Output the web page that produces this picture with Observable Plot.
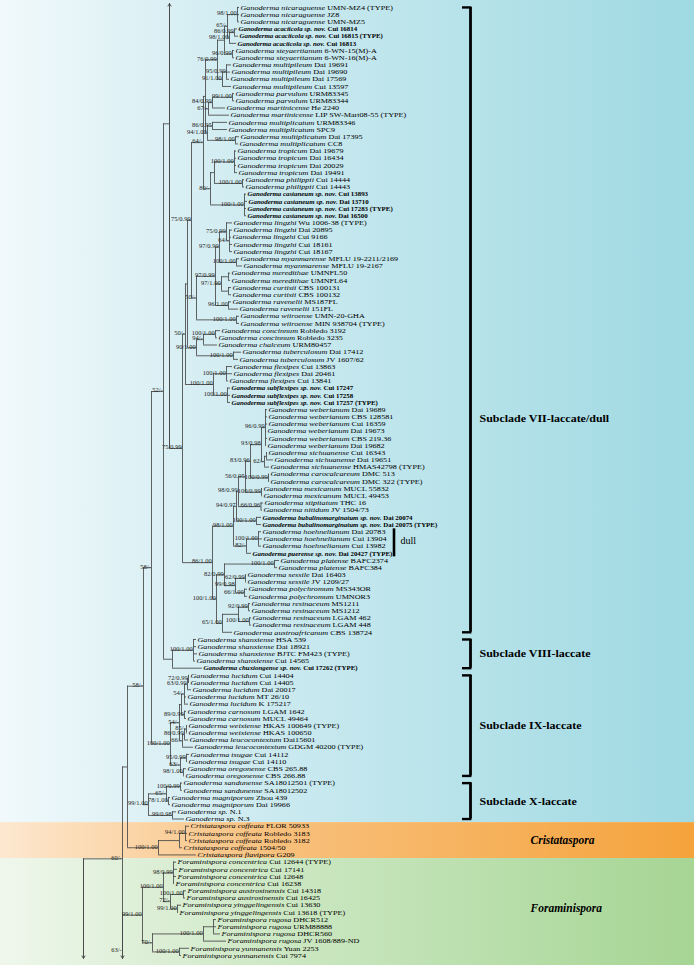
<!DOCTYPE html>
<html><head><meta charset="utf-8">
<script src="https://cdn.jsdelivr.net/npm/d3@7"></script>
<script src="https://cdn.jsdelivr.net/npm/@observablehq/plot@0.6"></script>
<style>
html,body{margin:0;padding:0;background:#fff;}
#chart svg{display:block;}
</style></head>
<body><div id="chart"></div>
<script>
// ---------------- DATA ----------------
// Terminal taxa, in top-to-bottom order (name, number of consecutive specimens)
const taxonRuns = [
 ["Ganoderma nicaraguense",3],["Ganoderma acaciicola sp. nov.",3],["Ganoderma steyaertianum",2],
 ["Ganoderma multipileum",4],["Ganoderma parvulum",2],["Ganoderma martinicense",2],
 ["Ganoderma multiplicatum",4],["Ganoderma tropicum",4],["Ganoderma philippii",2],
 ["Ganoderma castaneum sp. nov.",4],["Ganoderma lingzhi",5],["Ganoderma myanmarense",2],
 ["Ganoderma meredithae",2],["Ganoderma curtisii",2],["Ganoderma ravenelii",2],
 ["Ganoderma wiiroense",2],["Ganoderma concinnum",2],["Ganoderma chalceum",1],
 ["Ganoderma tuberculosum",2],["Ganoderma flexipes",3],["Ganoderma subflexipes sp. nov.",3],
 ["Ganoderma weberianum",6],["Ganoderma sichuanense",3],["Ganoderma carocalcareum",2],
 ["Ganoderma mexicanum",2],["Ganoderma stipitatum",1],["Ganoderma nitidum",1],
 ["Ganoderma bubalinomarginatum sp. nov.",2],["Ganoderma hoehnelianum",3],["Ganoderma puerense sp. nov.",1],
 ["Ganoderma platense",2],["Ganoderma sessile",2],["Ganoderma polychromum",2],
 ["Ganoderma resinaceum",4],["Ganoderma austroafricanum",1],["Ganoderma shanxiense",4],
 ["Ganoderma chuxiongense sp. nov.",1],["Ganoderma lucidum",5],["Ganoderma carnosum",2],
 ["Ganoderma weixiense",2],["Ganoderma leucocontextum",2],["Ganoderma tsugae",2],
 ["Ganoderma oregonense",2],["Ganoderma sandunense",2],["Ganoderma magniporum",2],
 ["Ganoderma sp.",2],["Cristataspora coffeata",4],["Cristataspora flavipora",1],
 ["Foraminispora concentrica",4],["Foraminispora austrosinensis",2],["Foraminispora yinggelingensis",2],
 ["Foraminispora rugosa",4],["Foraminispora yunnanensis",2]
];
const tipVouchers = [
 "UMN-MZ4 (TYPE)","JZ8","UMN-MZ5","Cui 16814","Cui 16815 (TYPE)","Cui 16813","6-WN-15(M)-A","6-WN-16(M)-A",
 "Dai 19691","Dai 19690","Dai 17569","Cui 13597","URM83345","URM83344","He 2240","LIP SW-Mart08-55 (TYPE)",
 "URM83346","SPC9","Dai 17395","CC8","Dai 19679","Dai 16434","Dai 20029","Dai 19491","Cui 14444","Cui 14443",
 "Cui 13893","Dai 13710","Cui 17283 (TYPE)","Dai 16500","Wu 1006-38 (TYPE)","Dai 20895","Cui 9166","Cui 18161",
 "Cui 18167","MFLU 19-2211/2169","MFLU 19-2167","UMNFL50","UMNFL64","CBS 100131","CBS 100132","MS187FL","151FL",
 "UMN-20-GHA","MIN 938704 (TYPE)","Robledo 3192","Robledo 3235","URM80457","Dai 17412","JV 1607/62",
 "Cui 13863","Dai 20461","Cui 13841","Cui 17247","Cui 17258","Cui 17257 (TYPE)",
 "Dai 19689","CBS 128581","Cui 16359","Dai 19673","CBS 219.36","Dai 19682","Cui 16343","Dai 19651",
 "HMAS42798 (TYPE)","DMC 513","DMC 322 (TYPE)","MUCL 55832","MUCL 49453","THC 16","JV 1504/73",
 "Dai 20074","Dai 20075 (TYPE)","Dai 20783","Cui 13904","Cui 13982","Dai 20427 (TYPE)","BAFC2374","BAFC384",
 "Dai 16403","JV 1209/27","MS343OR","UMNOR3","MS1211","MS1212","LGAM 462","LGAM 448","CBS 138724",
 "HSA 539","Dai 18921","BJTC FM423 (TYPE)","Cui 14565","Cui 17262 (TYPE)",
 "Cui 14404","Cui 14405","Dai 20017","MT 26/10","K 175217","LGAM 1642","MUCL 49464","HKAS 100649 (TYPE)",
 "HKAS 100650","Dai15601","GDGM 40200 (TYPE)","Cui 14112","Cui 14110","CBS 265.88","CBS 266.88",
 "SA18012501 (TYPE)","SA18012502","Zhou 439","Dai 19966","N.1","N.3",
 "FLOR 50933","Robledo 3183","Robledo 3182","1504/50","G209",
 "Cui 12644 (TYPE)","Cui 17141","Cui 12648","Cui 16238","Cui 14318","Cui 16425","Cui 13630","Cui 13618 (TYPE)",
 "DHCR512","URM88888","DHCR560","JV 1608/889-ND","Yuan 2253","Cui 7974"
];

// Tree topology (Newick-like fragments): tips are numbered 1..133 in the order above,
// internal labels are ML bootstrap / Bayesian posterior support,
// the value after ":" is the estimated cumulative distance from the figure's left edge.
const cladeNC = "((((1:239,2:239,3:239)98/1.00:237,((4:237,5:238)86/0.99:234,6:236)98/1.00:229)65/-:227,(7:234,8:234)96/0.99:232):224,((9:231,10:230,11:229)95/0.99:226,12:231)91/1.00:222)76/0.99:217";
const cladeP3 = "(((13:234,14:234)99/1.00:232,15:225)84/0.99:212,16:229)67/-:208";
const cladeM = "((17:227,18:227)86/0.95:212,(19:239,20:238)98/1.00:235)94/1.00:207";
const cladeT = "(((21:236,22:236,23:236,24:237)100/1.00:234,(25:244,26:244)100/1.00:242):214,(27:246,28:247,29:246,30:246)100/1.00:244)80/-:210";
const cladeW = "((((31:232,(32:232,33:231,34:232,35:232)64/-:229)75/0.99:226,(36:239,37:242)100/1.00:236)97/0.99:219,((38:230,39:230):228,(40:231,41:231):228)97/1.00:221,(42:231,43:238)96/1.00:228)97/0.99:215,(44:239,45:239)100/1.00:236)50/-:196";
const cladeCT = "(((46:220,47:217)100/1.00:215,48:217)94/-:203,(49:241,50:238)100/1.00:233)90/1.00:196";
const cladeFS = "((51:232,52:232,53:228)100/1.00:226,(54:230,55:230,56:230)100/1.00:227)100/1.00:213";
const cladeWS = "((57:267,58:267,59:267,60:266,61:267,62:266)96/0.99:265,((63:267,64:273):266,65:269)62/-:264)93/0.98:261";
const cladeCaro = "(66:269,67:269)100/0.99:268";
const cladeMex = "(68:262,69:262)100/0.99:261";
const cladeSN = "(70:263,71:262)66/0.96:260.5";
const cladeBub = "(72:261,73:261)100/1.00:256";
const cladeHP = "((74:261,75:262,76:261)100/1.00:258,77:251)82/-:246";
const cladePL = "((78:279,79:277)100/1.00:274,((80:246,81:246)62/0.99:245,(82:247,83:247)66/1.00:244)99/0.98:235)82/0.99:224";
const cladeRA = "(((84:250,85:250)92/0.99:248,(86:251,87:251)100/1.00:249):238,88:232)65/1.00:222";
const cladeVIII = "((89:196,90:196,91:197,92:195)100/1.00:193,93:202):172";
const cladeLC = "((((94:189,95:189)72/0.99:188,96:191)63/0.99:187,97:186,98:188)54/-:184,(99:186,100:186)89/0.99:184):181";
const cladeWL = "(((101:187,102:187)85/-:186,103:188)86/0.99:184,104:193)66/-:182";
const cladeTO = "((105:189,106:187)95/0.99:186,(107:186,108:184)98/1.00:183)63/-:180";
const cladeX = "(((109:182,110:182)100/0.99:180,(111:170,112:170)78/1.00:168)65/-:166,(113:176,114:184)99/0.98:172)99/1.00:148";
const cladeCrist = "(((115:189,116:187,117:187)94/1.00:185,118:182):179,119:196)100/1.00:158";
const cladeForam = "(((120:176,121:177,122:176,123:174)98/0.99:173,((124:186,125:185)100/1.00:183,(126:181,127:178)99/1.00:177)72/-:170)100/1.00:163,(((128:216,129:216,130:220):213,131:226)100/1.00:203,(132:189,133:181)100/1.00:179)70/-:152)99/1.00:142";
// Branches that continue on the neighbouring pages (arrows): estimated row of the hidden clade
const offPageRows = {TOP: -29, BOT1: 150, BOT2: 136.3};

const genusNames = ["Ganoderma", "Cristataspora", "Foraminispora"];
const genusFirstTip = [0, 114, 119];
const genusLastTip = [113, 118, 132];
const genusStops = [["#f1f9fb","#cbeaf0","#9fd9e2"],["#fde8d0","#f8c07c","#f5a33c"],["#eff7ec","#cde8c4","#a6d594"]];

const cladeNames = ["Subclade VII-laccate/dull","Subclade VIII-laccate","Subclade IX-laccate","Subclade X-laccate"];
const cladeFirstTip = [0, 88, 93, 108];
const cladeLastTip = [87, 92, 107, 113];
const cladeLabelRow = [57.2, 90, 100, 110.6];
const dullFirstTip = 73, dullLastTip = 76;

// ---------------- BUILD ----------------
const serif = "'Liberation Serif','Times New Roman',Times,serif";
const lineColor = "#474747";
const svgNS = "http://www.w3.org/2000/svg";

const tipTaxa = taxonRuns.flatMap(([n, k]) => Array(k).fill(n));

const V64 = "((" + cladeNC + "," + cladeP3 + "," + cladeM + "):205," + cladeT + ")64/-:203";
const L75 = "(" + V64 + "," + cladeW + ")75/0.99:191";
const S7top = "((" + L75 + "," + cladeCT + "):187," + cladeFS + ")50/-:185";
const WSC = "(" + cladeWS + "," + cladeCaro + ")83/0.96:250";
const G2 = "(" + WSC + "," + cladeMex + ")56/0.95:245";
const G3 = "(" + G2 + "," + cladeSN + ")98/0.99:238";
const G4 = "(" + G3 + "," + cladeBub + ")94/0.97:236";
const WB = "(" + G4 + "," + cladeHP + ")98/1.00:233";
const PS = "(" + cladePL + "," + cladeRA + ")100/1.00:216";
const S7 = "(" + S7top + ",(" + WB + "," + PS + ")86/1.00:212)75/0.99:182";
const N52 = "((TOP:169," + S7 + "):169," + cladeVIII + ")52/-:163";
const IX = "((" + cladeLC + "," + cladeWL + ")54/-:179," + cladeTO + ")100/1.00:170";
const N58b = "((" + N52 + "," + IX + ")58/-:151," + cladeX + ")58/-:143";
const N122 = "((" + N58b + "," + cladeCrist + "):127,(" + cladeForam + ",BOT2:122)63/-:122)60/-:122";
const treeNewick = "(" + N122 + ",BOT1:83):83";

function parseTree(s) {
  let i = 0;
  function node() {
    const n = {children: []};
    if (s[i] === "(") {
      i++;
      n.children.push(node());
      while (s[i] === ",") { i++; n.children.push(node()); }
      i++;
    }
    let name = "";
    while (i < s.length && !",():".includes(s[i])) name += s[i++];
    n.name = name;
    if (s[i] === ":") {
      i++; let d = "";
      while (i < s.length && !",()".includes(s[i])) d += s[i++];
      n.depth = +d;
    }
    return n;
  }
  return node();
}
const root = parseTree(treeNewick);

function layout(n) {
  if (!n.children.length) {
    if (/^\d+$/.test(n.name)) { n.tip = +n.name - 1; n.row = n.tip; }
    else { n.stub = true; n.row = offPageRows[n.name]; }
    return;
  }
  n.children.forEach(c => { c.parent = n; layout(c); });
  n.row = (n.children[0].row + n.children[n.children.length - 1].row) / 2;
}
layout(root);

const hLinks = [], vLinks = [], tips = [], supports = [], stubs = [];
(function walk(n) {
  if (n.parent && !n.stub) hLinks.push({x1: n.parent.depth, x2: n.depth, y: n.row});
  if (n.children.length) {
    const rows = n.children.map(c => c.row);
    vLinks.push({x: n.depth, y1: d3.min(rows), y2: d3.max(rows)});
    if (n.name) supports.push({x: n.depth, y: n.row, label: n.name});
    n.children.forEach(walk);
  } else if (n.stub) {
    const others = n.parent.children.filter(c => c !== n).map(c => c.row);
    const far = n.row < n.parent.row ? d3.max(others) : d3.min(others);
    stubs.push({x: n.depth, y1: far, y2: n.row});
  } else {
    const taxon = tipTaxa[n.tip], voucher = tipVouchers[n.tip];
    tips.push({x: n.depth, y: n.row, taxon, voucher, bold: taxon.includes("sp. nov."), full: taxon + " " + voucher});
  }
})(root);

const brackets = cladeNames.map((name, k) => ({name, first: cladeFirstTip[k], last: cladeLastTip[k], row: cladeLabelRow[k]}));
const bracketCaps = brackets.flatMap(b => [{y: b.first}, {y: b.last}]);
const genera = genusNames.map((name, k) => ({name, first: genusFirstTip[k], last: genusLastTip[k], row: (genusFirstTip[k] + genusLastTip[k]) / 2}));
const labelledGenera = genera.slice(1);
const dull = [{first: dullFirstTip - 0.4, last: dullLastTip + 0.5, row: (dullFirstTip + dullLastTip) / 2 - 0.3}];

const yDomain = [-0.55, 132.42], yRange = [3, 958];
function bandMark(index, scales, values, dimensions) {
  const y = scales && scales.y ? scales.y : d3.scaleLinear(yDomain, yRange);
  const W = (dimensions && dimensions.width) || 694, H = (dimensions && dimensions.height) || 965;
  const g = document.createElementNS(svgNS, "g");
  const defs = document.createElementNS(svgNS, "defs");
  g.appendChild(defs);
  genera.forEach((b, k) => {
    const lg = document.createElementNS(svgNS, "linearGradient");
    lg.setAttribute("id", "band-grad-" + k);
    lg.setAttribute("x1", "0"); lg.setAttribute("x2", "1"); lg.setAttribute("y1", "0"); lg.setAttribute("y2", "0");
    [0, 0.4, 1].forEach((o, j) => {
      const st = document.createElementNS(svgNS, "stop");
      st.setAttribute("offset", o); st.setAttribute("stop-color", genusStops[k][j]);
      lg.appendChild(st);
    });
    defs.appendChild(lg);
    const top = k === 0 ? 0 : y(b.first - 0.5);
    const bottom = k === genera.length - 1 ? H : y(b.last + 0.5);
    const r = document.createElementNS(svgNS, "rect");
    r.setAttribute("x", 0); r.setAttribute("y", top);
    r.setAttribute("width", W); r.setAttribute("height", bottom - top);
    r.setAttribute("fill", "url(#band-grad-" + k + ")");
    g.appendChild(r);
  });
  return g;
}

const chart = Plot.plot({
  width: 694, height: 965,
  marginTop: 0, marginRight: 0, marginBottom: 0, marginLeft: 0,
  x: {domain: [0, 694], range: [0, 694], axis: null},
  y: {domain: yDomain, range: yRange, clamp: true, axis: null},
  style: {background: "white"},
  marks: [
    bandMark,
    Plot.ruleY(hLinks, {y: "y", x1: "x1", x2: "x2", stroke: lineColor, strokeWidth: 0.85}),
    Plot.ruleX(vLinks, {x: "x", y1: "y1", y2: "y2", stroke: lineColor, strokeWidth: 0.85}),
    Plot.arrow(stubs, {x1: "x", y1: "y1", x2: "x", y2: "y2", stroke: lineColor, strokeWidth: 0.9, headLength: 5, headAngle: 60}),
    Plot.text(supports, {x: "x", y: "y", text: "label", textAnchor: "end", lineAnchor: "bottom", dx: -0.8, dy: 0.8, fontSize: 5.8, fontFamily: serif, fill: "#222"}),
    Plot.text(tips, {x: "x", y: "y", text: "full", textAnchor: "start", dx: 1, fontSize: 6.9, fontFamily: serif, fill: "#000"}),
    Plot.ruleX(brackets, {x: 470, y1: "first", y2: "last", stroke: "#000", strokeWidth: 2.8}),
    Plot.ruleY(bracketCaps, {y: "y", x1: 462, x2: 471.4, stroke: "#000", strokeWidth: 2.4}),
    Plot.text(brackets, {x: 479, y: "row", text: "name", textAnchor: "start", fontSize: 10.5, fontWeight: "bold", fontFamily: serif, fill: "#000"}),
    Plot.text(labelledGenera, {x: 530, y: "row", text: "name", textAnchor: "start", fontSize: 11.5, fontWeight: "bold", fontStyle: "italic", fontFamily: serif, fill: "#000"}),
    Plot.ruleX(dull, {x: 393.5, y1: "first", y2: "last", stroke: "#000", strokeWidth: 2.6}),
    Plot.text(dull, {x: 400, y: "row", text: () => "dull", textAnchor: "start", fontSize: 10, fontFamily: serif, fill: "#000"})
  ]
});

// Horizontal stretch of a text element about its anchor point
function stretch(el, s) {
  const tr = el.getAttribute("transform");
  if (tr && /translate/.test(tr) && !el.hasAttribute("x")) {
    el.setAttribute("transform", tr + " scale(" + s + ",1)");
  } else {
    const x = +(el.getAttribute("x") || 0);
    el.setAttribute("transform", (tr ? tr + " " : "") + "translate(" + x + ",0) scale(" + s + ",1) translate(" + (-x) + ",0)");
  }
}

// Italicise taxon names (and embolden new species) inside the tip labels
const tipMap = new Map(tips.map(t => [t.full, t]));
const supportSet = new Set(supports.map(d => d.label));
const cladeSet = new Set(cladeNames);
chart.querySelectorAll("text").forEach(el => {
  const content = el.textContent;
  const t = tipMap.get(content);
  if (t) {
    el.textContent = "";
    const a = document.createElementNS(svgNS, "tspan");
    a.setAttribute("font-style", "italic");
    if (t.bold) a.setAttribute("font-weight", "bold");
    a.textContent = t.taxon;
    const b = document.createElementNS(svgNS, "tspan");
    if (t.bold) b.setAttribute("font-weight", "bold");
    b.textContent = " " + t.voucher;
    el.appendChild(a); el.appendChild(b);
    stretch(el, t.bold ? 1.0 : 1.18);
  } else if (supportSet.has(content)) {
    stretch(el, 1.12);
  } else if (cladeSet.has(content)) {
    stretch(el, 1.14);
  }
});
document.getElementById("chart").appendChild(chart);
</script>
</body></html>
